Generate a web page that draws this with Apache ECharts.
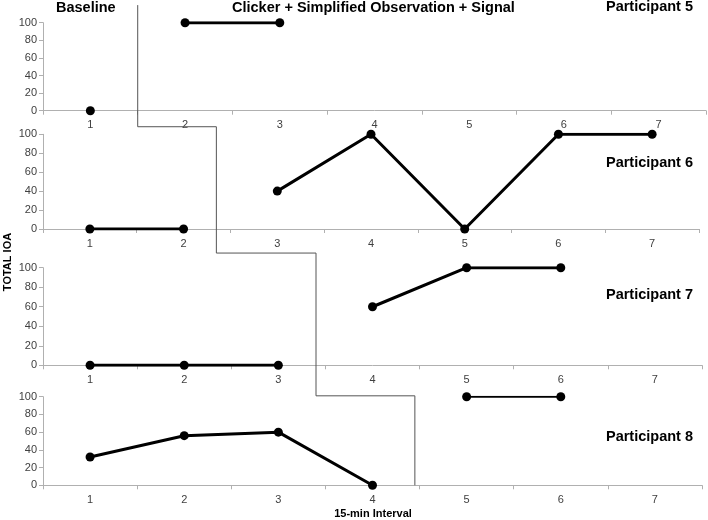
<!DOCTYPE html>
<html>
<head>
<meta charset="utf-8">
<script src="https://cdn.jsdelivr.net/npm/echarts@6/dist/echarts.min.js"></script>
<style>html,body{margin:0;padding:0;background:#fff;}#c{width:708px;height:520px;}</style>
</head>
<body>
<div id="c"></div>
<script>
// ---- data ----
const intervals = ['1', '2', '3', '4', '5', '6', '7'];
const yTicks = [0, 20, 40, 60, 80, 100];
const participants = ['Participant 5', 'Participant 6', 'Participant 7', 'Participant 8'];
const p5Baseline  = [0];
const p5Treatment = ['-', 100, 100];
const p6Baseline  = [0, 0];
const p6Treatment = ['-', '-', 40, 100, 0, 100, 100];
const p7Baseline  = [0, 0, 0];
const p7Treatment = ['-', '-', '-', 60, 100, 100];
const p8Baseline  = [32, 56, 60, 0];
const p8Treatment = ['-', '-', '-', '-', 100, 100];
// phase-change line: x positions (interval units) and step heights (IOA units)
const phaseX = [1.5, 2.35, 3.4, 4.45];
const phaseY = [120, 108, 115, 101];

const baselines = [p5Baseline, p6Baseline, p7Baseline, p8Baseline];
const treatments = [p5Treatment, p6Treatment, p7Treatment, p8Treatment];

const grids = [
  {left: 43, right: 2, top: 22.7, height: 88},
  {left: 43, right: 9, top: 134.3, height: 94.7},
  {left: 43, right: 6, top: 267.7, height: 97.6},
  {left: 43, right: 6, top: 396.7, height: 88.6}
];
const FONT = '"Liberation Sans", Arial, sans-serif';
const axisGray = '#b0b0b0';

const xAxes = grids.map((g, i) => ({
  type: 'category', gridIndex: i, data: intervals, boundaryGap: true,
  axisLine: {lineStyle: {color: axisGray, width: 1}},
  axisTick: {show: true, length: 4, lineStyle: {color: axisGray}},
  axisLabel: {color: '#404040', fontSize: 11, fontFamily: FONT, margin: 9},
  splitLine: {show: false}
}));
const yAxes = grids.map((g, i) => ({
  type: 'value', gridIndex: i, min: yTicks[0], max: yTicks[yTicks.length - 1], interval: 20,
  axisLine: {show: true, lineStyle: {color: axisGray, width: 1}},
  axisTick: {show: true, length: 4, lineStyle: {color: axisGray}},
  axisLabel: {color: '#404040', fontSize: 11, fontFamily: FONT, margin: 6},
  splitLine: {show: false}
}));

const series = [];
const widths = [[3, 3], [3, 3], [3, 3], [3, 2]];
for (let i = 0; i < 4; i++) {
  series.push({
    type: 'line', xAxisIndex: i, yAxisIndex: i, data: baselines[i],
    symbol: 'circle', symbolSize: 9, color: '#000',
    lineStyle: {color: '#000', width: widths[i][0]}, itemStyle: {color: '#000'},
    animation: false, connectNulls: false
  });
  series.push({
    type: 'line', xAxisIndex: i, yAxisIndex: i, data: treatments[i],
    symbol: 'circle', symbolSize: 9, color: '#000',
    lineStyle: {color: '#000', width: widths[i][1]}, itemStyle: {color: '#000'},
    animation: false, connectNulls: false
  });
}

const chart = echarts.init(document.getElementById('c'));
const partY = [7, 163, 295, 437];
const textEls = [
  {type: 'text', left: 56, top: 0, style: {text: 'Baseline', font: 'bold 14.5px ' + FONT, fill: '#000'}},
  {type: 'text', left: 232, top: 0, style: {text: 'Clicker + Simplified Observation + Signal', font: 'bold 14.5px ' + FONT, fill: '#000'}},
  {type: 'text', x: 8, y: 262, rotation: Math.PI / 2,
   style: {text: 'TOTAL IOA', font: 'bold 11px ' + FONT, fill: '#000', align: 'center', verticalAlign: 'middle'}},
  {type: 'text', x: 373, y: 514, style: {text: '15-min Interval', font: 'bold 11px ' + FONT, fill: '#000', align: 'center', verticalAlign: 'middle'}}
];
participants.forEach((p, i) => {
  textEls.push({type: 'text', x: 693, y: partY[i],
    style: {text: p, font: 'bold 14.5px ' + FONT, fill: '#000', align: 'right', verticalAlign: 'middle'}});
});

chart.setOption({
  animation: false,
  grid: grids,
  xAxis: xAxes,
  yAxis: yAxes,
  series: series,
  graphic: textEls
});

function xAt(g, pos) {
  const a = chart.convertToPixel({gridIndex: g}, [0, 0])[0];
  const b = chart.convertToPixel({gridIndex: g}, [1, 0])[0];
  return a + (pos - 1) * (b - a);
}
function yAt(g, v) {
  const y0 = chart.convertToPixel({gridIndex: g}, [0, 0])[1];
  const y1 = chart.convertToPixel({gridIndex: g}, [0, 100])[1];
  return y0 + (y1 - y0) * v / 100;
}
const pts = [];
const x1 = xAt(0, phaseX[0]);
pts.push([x1, yAt(0, phaseY[0])]);
pts.push([x1, yAt(1, phaseY[1])]);
const x2 = xAt(1, phaseX[1]);
pts.push([x2, yAt(1, phaseY[1])]);
pts.push([x2, yAt(2, phaseY[2])]);
const x3 = xAt(2, phaseX[2]);
pts.push([x3, yAt(2, phaseY[2])]);
pts.push([x3, yAt(3, phaseY[3])]);
const x4 = xAt(3, phaseX[3]);
pts.push([x4, yAt(3, phaseY[3])]);
pts.push([x4, yAt(3, 0)]);

chart.setOption({
  graphic: textEls.concat([{
    type: 'polyline', shape: {points: pts}, z: 10,
    style: {stroke: '#555', lineWidth: 1, fill: null}
  }])
});
</script>
</body>
</html>
